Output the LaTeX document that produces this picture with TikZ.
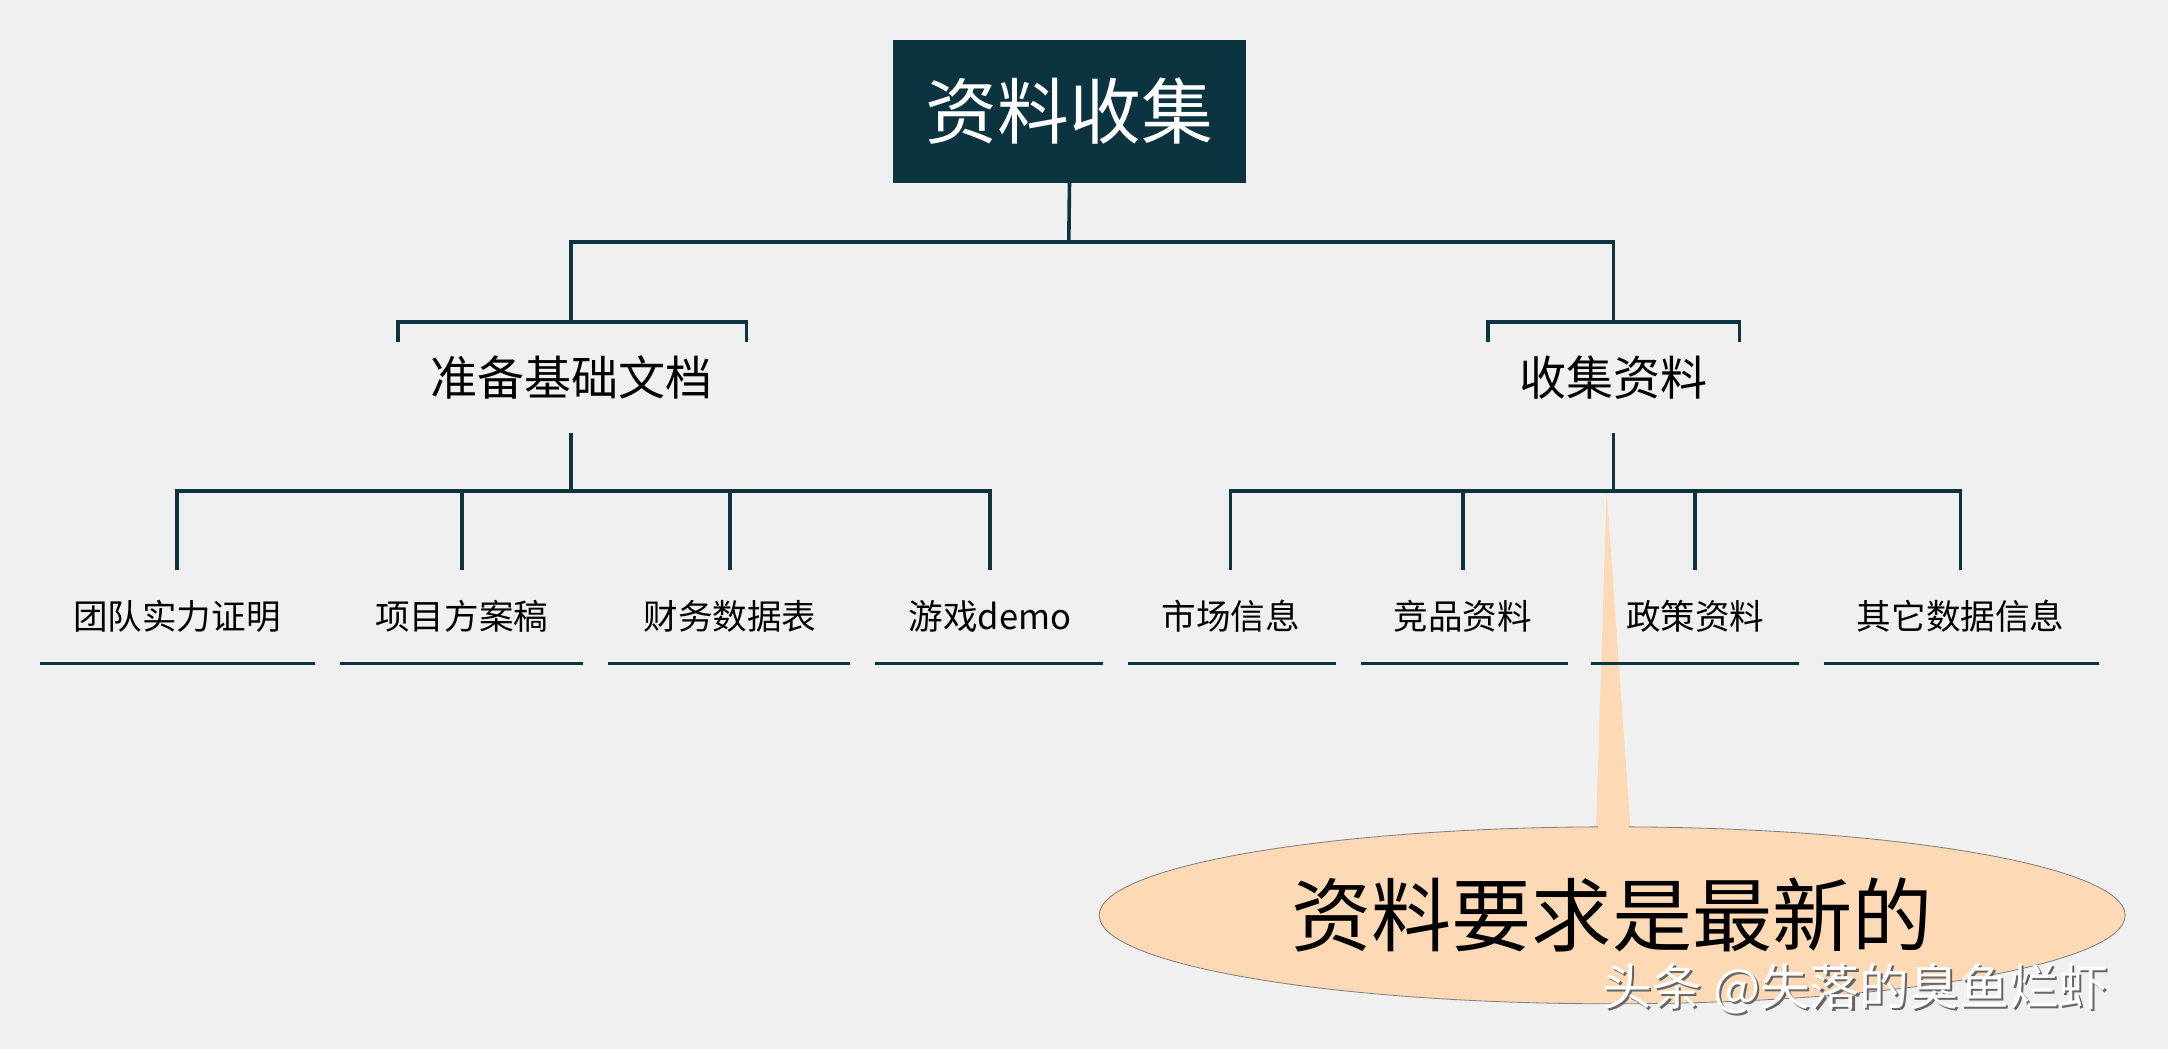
\documentclass[tikz,border=0pt]{standalone}
\usepackage{fontspec}
\setmainfont{Noto Sans CJK SC}
\definecolor{teal}{HTML}{0B3340}
\definecolor{peach}{HTML}{FDD9B5}
\tikzset{ln/.style={teal,line width=2.6pt},
 leaf/.style={font=\fontsize{25}{30}\selectfont},
 mid/.style={font=\fontsize{34}{40}\selectfont}}
\begin{document}
\begin{tikzpicture}[x=1pt,y=-1pt]
\fill[gray!12] (0,0) rectangle (1568,759);
\useasboundingbox (0,0) rectangle (1568,759);
\node[fill=teal,minimum width=255,minimum height=103,text=white,font=\fontsize{52}{62}\selectfont] (top) at (773.5,80.5) {资料收集};
\draw[ln] (top.south) -- (773,175);
\draw[ln] (413,233) |- (1167,175) -- (1167,233);
\draw[ln] (288,247) |- (540,233) -- (540,247);
\draw[ln] (1076,247) |- (1258,233) -- (1258,247);
\node[mid] (a) at (413,273) {准备基础文档};
\node[mid] (b) at (1167,273) {收集资料};
% callout
\fill[peach] (1162,355) -- (1154,610) -- (1180,610) -- cycle;
\draw[gray,line width=0.6pt,fill=peach] (1166,662) ellipse [x radius=371,y radius=64];
\fill[peach] (1156,596) rectangle (1178,604);
\node[font=\fontsize{58}{66}\selectfont] (c) at (1166,662) {资料要求是最新的};
\draw[ln] (413,313) -- (413,355);
\draw[ln] (128,412) |- (716,355) -- (716,412);
\draw[ln] (334,355) -- (334,412); \draw[ln] (528,355) -- (528,412);
\draw[ln] (1167,313) -- (1167,355);
\draw[ln] (890,412) |- (1418,355) -- (1418,412);
\draw[ln] (1058,355) -- (1058,412); \draw[ln] (1226,355) -- (1226,412);
\foreach \n/\x/\l/\r/\t in {l1/128/29/228/团队实力证明,l2/334/246/422/项目方案稿,l3/528/440/615/财务数据表,l4/716/633/798/游戏demo,r1/890/816/966/市场信息,r2/1058/984/1134/竞品资料,r3/1226/1151/1301/政策资料,r4/1418/1319/1518/其它数据信息}{
 \node[leaf] (\n) at (\x,446) {\t};
 \draw[ln] (\l,480) -- (\r,480);
}
\node[font=\fontsize{36}{42}\selectfont,text=black!60] at (1343.5,716.5) {头条 @失落的臭鱼烂虾};
\node[font=\fontsize{36}{42}\selectfont,text=white] (w) at (1342,715) {头条 @失落的臭鱼烂虾};
\end{tikzpicture}
\end{document}
